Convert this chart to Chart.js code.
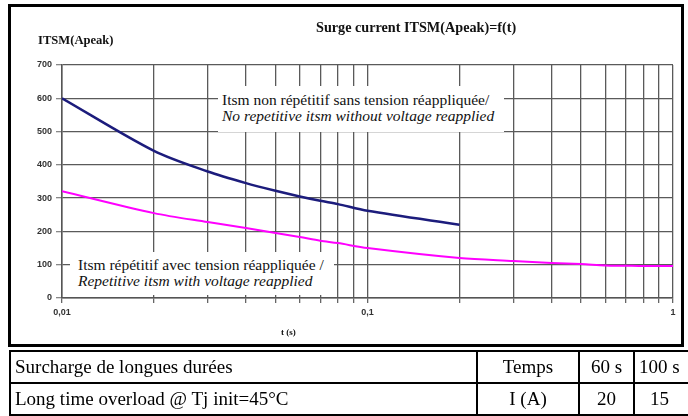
<!DOCTYPE html>
<html>
<head>
<meta charset="utf-8">
<script src="https://cdn.jsdelivr.net/npm/chart.js@4/dist/chart.umd.min.js"></script>
<style>
  body { margin: 0; width: 688px; height: 416px; overflow: hidden; background: #fff; position: relative; }
  #frame { position: absolute; left: 8px; top: 4px; width: 670px; height: 337px; border: 3px solid #000; }
  #chart { position: absolute; left: 0; top: 0; }
  .txt { position: absolute; font-family: "Liberation Serif", "Times New Roman", serif; color: #111; white-space: nowrap; }
  #title { left: 316px; top: 19px; font-size: 14.2px; font-weight: bold; }
  #ylab { left: 38px; top: 33px; font-size: 12.6px; font-weight: bold; }
  #xlab { left: 281px; top: 327px; font-size: 9px; font-weight: bold; }
  .note { background: #fff; font-size: 15.5px; line-height: 16px; }
  .note i { display: block; }
  #note1 { left: 218px; top: 86px; padding: 6px 10px 8px 4px; }
  #note2 { left: 70px; top: 252px; padding: 5px 10px 6px 8px; }
  table { position: absolute; left: 9px; top: 350px; width: 684px; table-layout: fixed; border-collapse: collapse; font-family: "Liberation Serif", "Times New Roman", serif; font-size: 19px; }
  td { border: 2px solid #000; height: 30px; padding: 0 4px; white-space: nowrap; }
  td.c { text-align: center; }
</style>
</head>
<body>
<div id="frame"></div>
<canvas id="chart" width="688" height="416"></canvas>
<div class="txt" id="title">Surge current ITSM(Apeak)=f(t)</div>
<div class="txt" id="ylab">ITSM(Apeak)</div>
<div class="txt" id="xlab">t (s)</div>
<div class="txt note" id="note1">Itsm non répétitif sans tension réappliquée/<i>No repetitive itsm without voltage reapplied</i></div>
<div class="txt note" id="note2">Itsm répétitif avec tension réappliquée /<i>Repetitive itsm with voltage reapplied</i></div>
<table>
  <colgroup><col style="width:467px"><col style="width:102px"><col style="width:55px"><col style="width:60px"></colgroup>
  <tr><td>Surcharge de longues durées</td><td class="c">Temps</td><td class="c">60 s</td><td class="c" style="text-align:left">100 s</td></tr>
  <tr><td>Long time overload @ Tj init=45°C</td><td class="c">I (A)</td><td class="c">20</td><td class="c" style="text-align:left;padding-left:15px">15</td></tr>
</table>
<script>
// non repetitive surge current
const tNonRep = [0.01, 0.02, 0.03, 0.04, 0.05, 0.06, 0.07, 0.08, 0.1, 0.2];
const iNonRep = [600, 442, 380, 345, 322, 305, 292, 282, 262, 220];

// repetitive surge current
const tRep = [0.01, 0.02, 0.03, 0.04, 0.05, 0.06, 0.07, 0.08, 0.1, 0.2, 0.3, 0.4, 0.5, 0.6, 0.7, 0.8, 1];
const iRep = [321, 255, 228, 210, 195, 183, 172, 165, 150, 120, 111, 105, 102, 98, 97, 96, 96];

// axis ticks
const xGrid = [0.01, 0.02, 0.03, 0.04, 0.05, 0.06, 0.07, 0.08, 0.09, 0.1, 0.2, 0.3, 0.4, 0.5, 0.6, 0.7, 0.8, 0.9, 1];
const xLabels = ["0,01", "0,1", "1"];

const toPoints = (xs, ys) => xs.map((x, i) => ({ x: x, y: ys[i] }));
const tickFont = { family: "Liberation Sans", size: 9, weight: "bold" };

new Chart(document.getElementById("chart"), {
    type: "line",
    data: {
        datasets: [{
            data: toPoints(tNonRep, iNonRep),
            borderColor: "#1c1c7c",
            borderWidth: 2.5,
            pointRadius: 0,
            tension: 0.3,
        }, {
            data: toPoints(tRep, iRep),
            borderColor: "#ff00ff",
            borderWidth: 2,
            pointRadius: 0,
            tension: 0.3,
        }],
    },
    options: {
        responsive: false,
        animation: false,
        layout: { padding: { left: 0, top: 65, right: 15, bottom: 88 } },
        plugins: { legend: { display: false }, tooltip: { enabled: false } },
        scales: {
            x: {
                type: "logarithmic",
                min: 0.01,
                max: 1,
                afterFit: function (scale) { scale.height = 30; },
                afterBuildTicks: function (scale) {
                    scale.ticks = xGrid.map(v => ({ value: v }));
                },
                ticks: {
                    autoSkip: false,
                    maxRotation: 0,
                    padding: 4,
                    color: "#333",
                    font: tickFont,
                    callback: function (value) {
                        const i = [0.01, 0.1, 1].indexOf(Number(value.toPrecision(3)));
                        return i >= 0 ? xLabels[i] : "";
                    },
                },
                grid: { color: "#5a5a5a", lineWidth: 1.3, tickLength: 5, tickColor: "#666" },
                border: { color: "#555", width: 1.5 },
            },
            y: {
                min: 0,
                max: 700,
                afterFit: function (scale) { scale.width = 62; },
                ticks: { stepSize: 100, padding: 4, color: "#333", font: tickFont },
                grid: { color: "#5a5a5a", lineWidth: 1.3, tickLength: 6, tickColor: "#888" },
                border: { color: "#555", width: 1.5 },
            },
        },
    },
});
</script>
</body>
</html>
